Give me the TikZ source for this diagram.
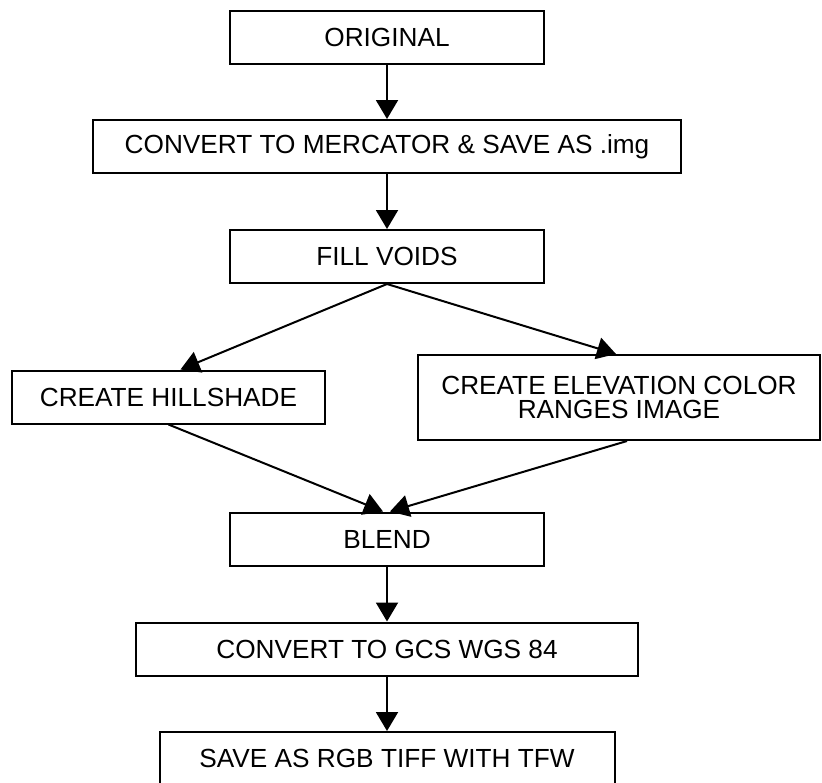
\documentclass[tikz,border=0pt]{standalone}
\usepackage{fontspec}
\setmainfont{Liberation Sans}
\usetikzlibrary{arrows.meta}

\begin{document}
\begin{tikzpicture}[x=0.5pt, y=-0.5pt, line width=1pt,
  block/.style={rectangle, draw, minimum height=26.5pt, inner sep=0pt, align=center,
    font=\fontsize{13.1}{12}\selectfont},
  >={Triangle[length=9.5pt, width=11pt]},
  node distance=55pt]
  \useasboundingbox (0,0) rectangle (822,782);
  \node[block, minimum width=157pt] (orig) at (387,37) {ORIGINAL};
  \node[block, below of=orig, node distance=54.75pt, minimum width=294pt] (merc) {CONVERT TO MERCATOR \& SAVE AS .img};
  \node[block, below of=merc, minimum width=157pt] (fill) {FILL VOIDS};
  \node[block, below of=fill, node distance=70.25pt, xshift=-109.25pt, minimum width=156.5pt] (hill) {CREATE HILLSHADE};
  \node[block, below of=fill, node distance=70.5pt, xshift=116pt, minimum width=201pt, minimum height=42.5pt] (elev) {CREATE ELEVATION COLOR\\RANGES IMAGE};
  \node[block, below of=fill, node distance=141.25pt, minimum width=157pt] (blend) {BLEND};
  \node[block, below of=blend, minimum width=251pt] (gcs) {CONVERT TO GCS WGS 84};
  \node[block, below of=gcs, node distance=54.75pt, minimum width=227.5pt] (save) {SAVE AS RGB TIFF WITH TFW};

  \draw[->] (orig.south) -- (merc.north);
  \draw[->] (merc.south) -- (fill.north);
  \draw[->] (fill.south) -- ([xshift=6pt]hill.north);
  \draw[->] (fill.south) -- ([xshift=-1.5pt]elev.north);
  \draw[->] (hill.south) -- ([xshift=-2pt]blend.north);
  \draw[->] ([xshift=4pt]elev.south) -- ([xshift=1.5pt]blend.north);
  \draw[->] (blend.south) -- (gcs.north);
  \draw[->] (gcs.south) -- (save.north);

\end{tikzpicture}
\end{document}
